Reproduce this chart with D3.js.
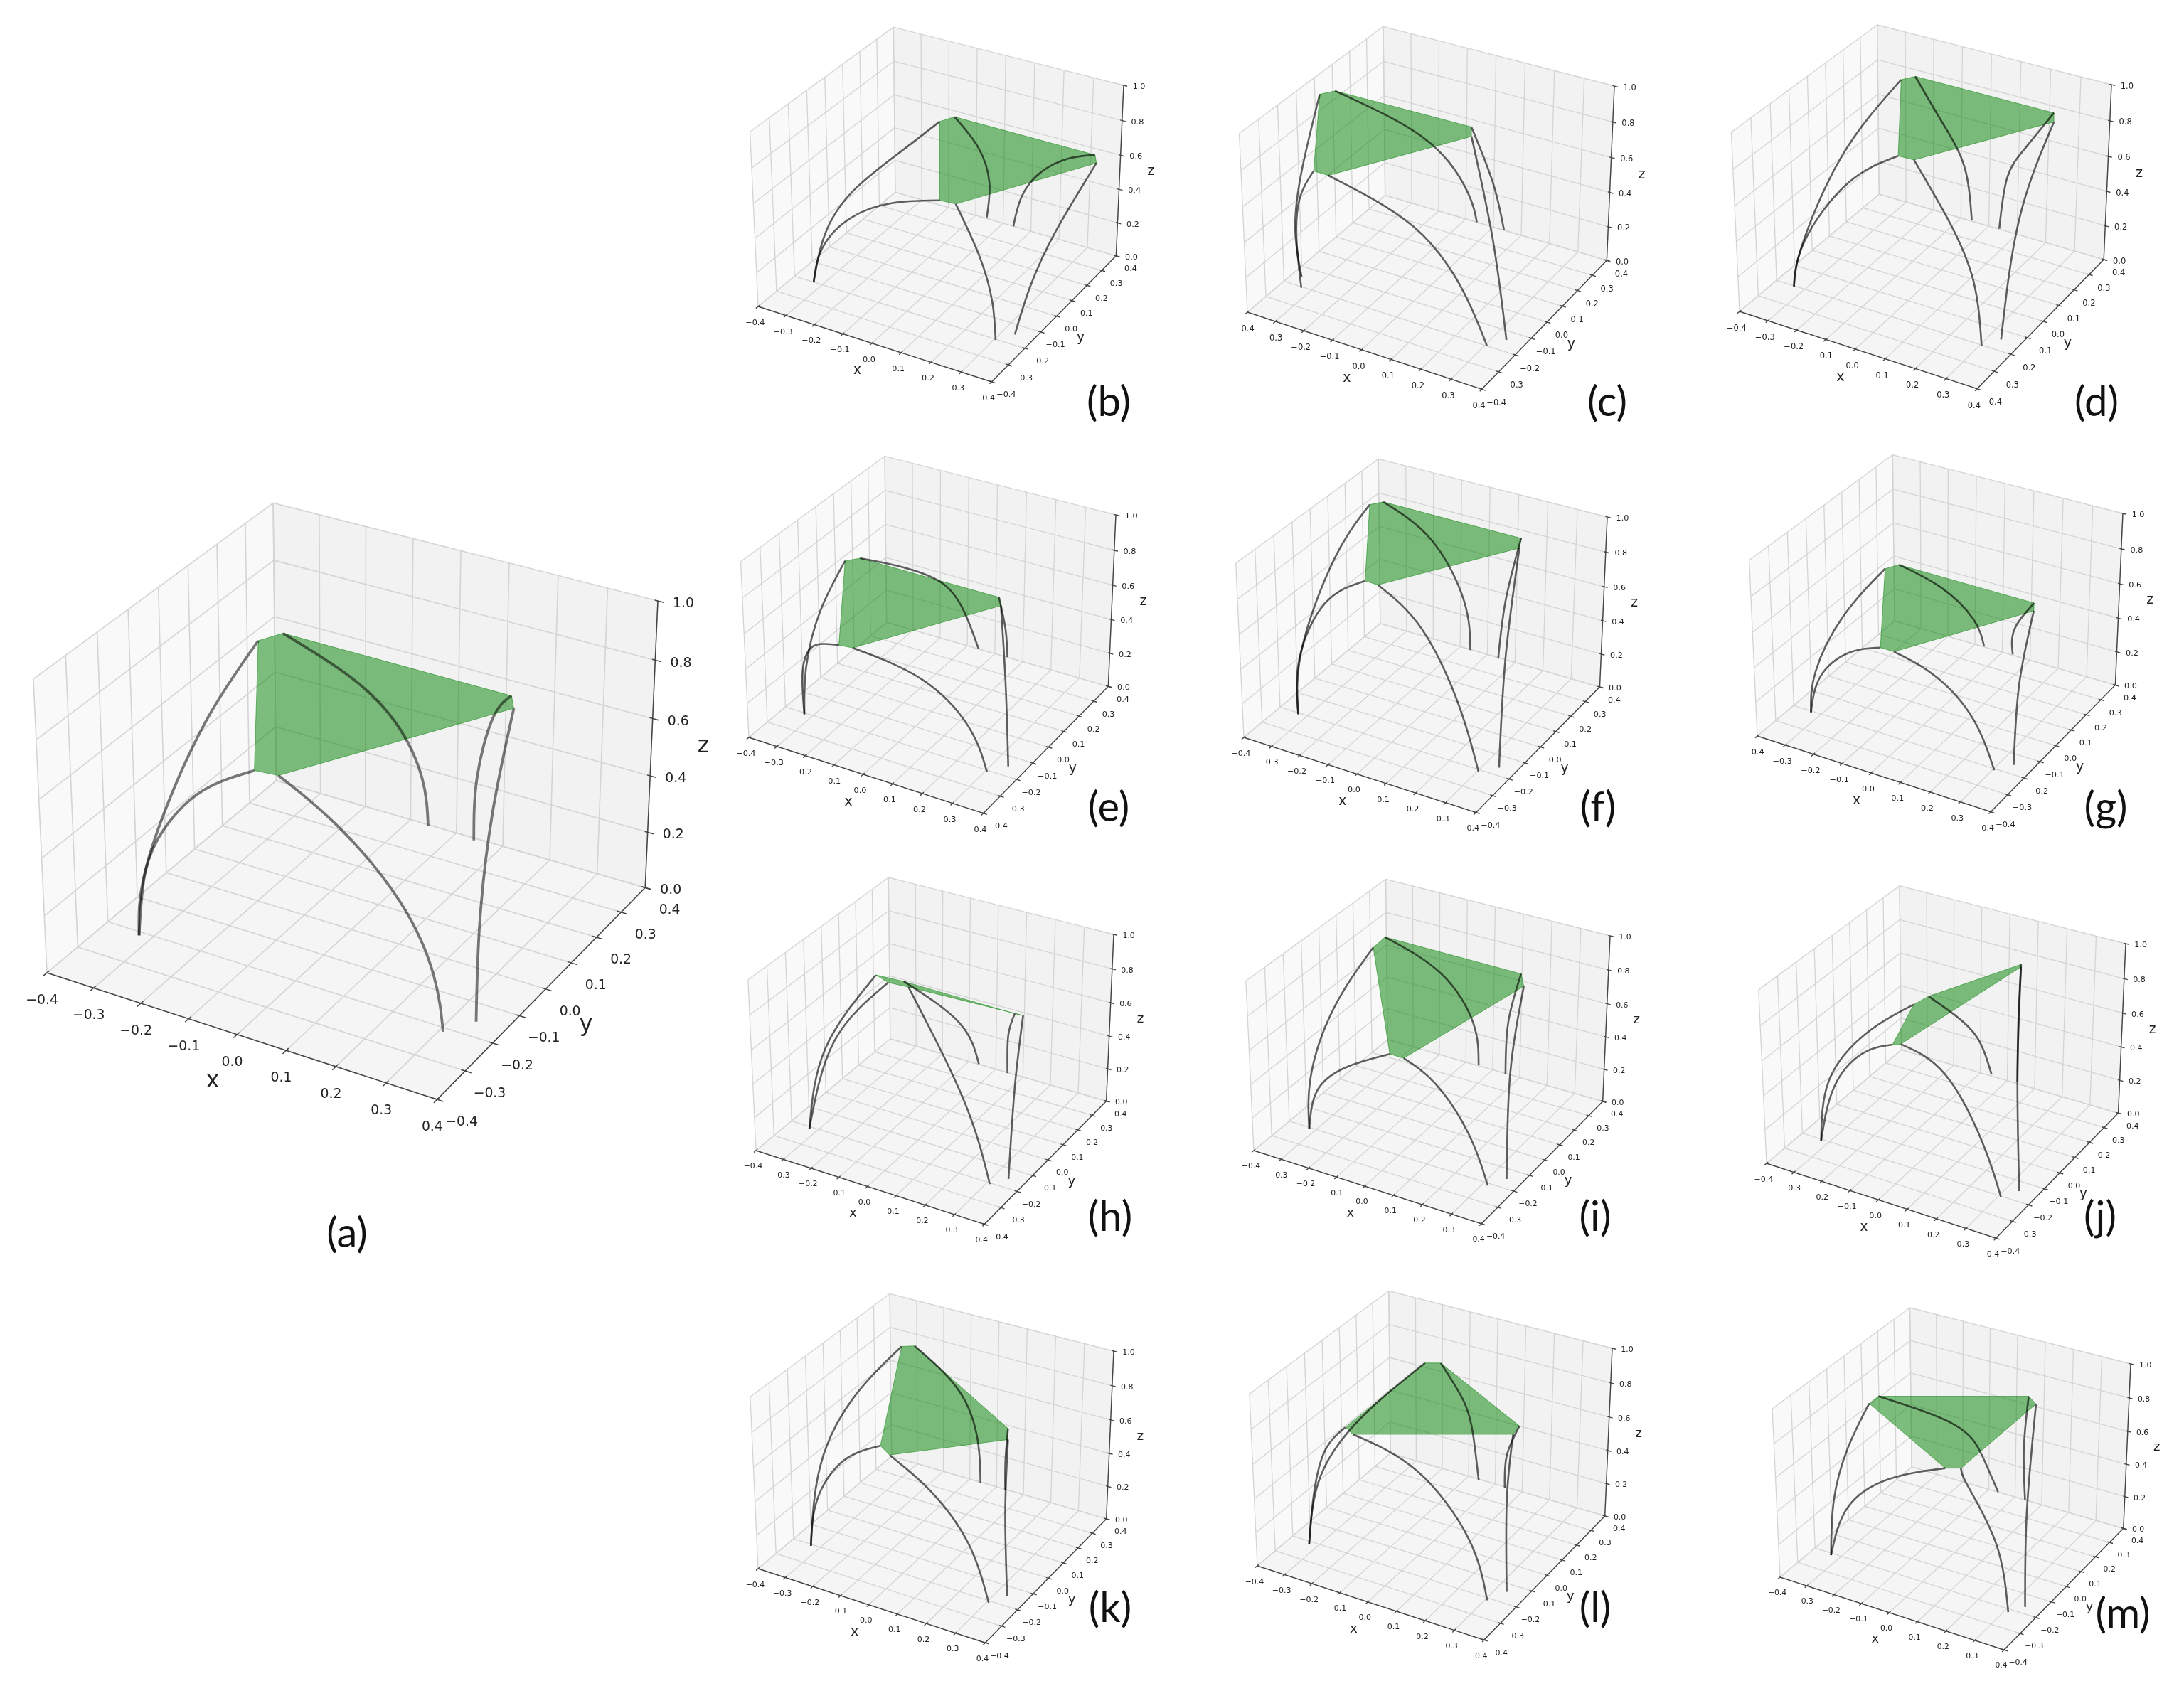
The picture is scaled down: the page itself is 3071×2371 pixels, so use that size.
<!DOCTYPE html>
<html><head><meta charset="utf-8">
<script src="https://cdn.jsdelivr.net/npm/d3@7"></script>
<style>body{margin:0;background:#fff}</style></head>
<body><svg id="chart" width="3071" height="2371"></svg>
<script>
var xTicks = [-0.4,-0.3,-0.2,-0.1,0,0.1,0.2,0.3,0.4],
	yTicks = [-0.4,-0.3,-0.2,-0.1,0,0.1,0.2,0.3,0.4],
	zTicks = [0,0.2,0.4,0.6,0.8,1];

// six legs per pose, each leg from floor to platform, as [x, y, z]
var legsA = [
	[[-0.325,-0.211,0],[-0.345,-0.160,0.15],[-0.380,-0.004,0.3],[-0.395,0.163,0.45],[-0.376,0.301,0.6]],
	[[-0.060,0.397,0],[-0.083,0.413,0.15],[-0.153,0.435,0.3],[-0.242,0.410,0.45],[-0.351,0.350,0.6]],
	[[0.042,0.392,0],[0.032,0.419,0.2],[0.048,0.448,0.4],[0.138,0.348,0.6]],
	[[0.343,-0.155,0],[0.282,-0.033,0.2],[0.214,0.137,0.4],[0.164,0.308,0.6]],
	[[0.308,-0.212,0],[0.272,-0.183,0.15],[0.175,-0.129,0.3],[0.028,-0.090,0.45],[-0.081,-0.118,0.6]],
	[[-0.325,-0.211,0],[-0.352,-0.144,0.15],[-0.324,-0.117,0.3],[-0.252,-0.099,0.45],[-0.127,-0.124,0.6]]
];
var legsB = [
	[[-0.331,-0.199,0],[-0.385,-0.047,0.125],[-0.383,0.118,0.25],[-0.315,0.298,0.375],[-0.240,0.412,0.5]],
	[[-0.063,0.406,0],[-0.081,0.454,0.167],[-0.139,0.483,0.333],[-0.215,0.463,0.5]],
	[[0.037,0.400,0],[0.030,0.467,0.125],[0.070,0.521,0.25],[0.167,0.524,0.375],[0.285,0.461,0.5]],
	[[0.340,-0.150,0],[0.326,-0.031,0.167],[0.319,0.138,0.333],[0.312,0.417,0.5]],
	[[0.305,-0.204,0],[0.272,-0.166,0.167],[0.191,-0.100,0.333],[0.063,-0.017,0.5]],
	[[-0.331,-0.199,0],[-0.348,-0.120,0.125],[-0.301,-0.030,0.25],[-0.170,0.004,0.375],[0.011,-0.022,0.5]]
];
var legsC = [
	[[-0.367,-0.152,0],[-0.424,-0.093,0.217],[-0.477,0.038,0.433],[-0.550,0.258,0.65]],
	[[-0.060,0.400,0],[-0.074,0.359,0.217],[-0.236,0.378,0.433],[-0.520,0.301,0.65]],
	[[0.039,0.399,0],[0.026,0.344,0.325],[-0.033,0.309,0.65]],
	[[0.341,-0.144,0],[0.190,0.044,0.325],[-0.003,0.256,0.65]],
	[[0.306,-0.199,0],[0.193,-0.148,0.217],[0.000,-0.101,0.433],[-0.253,-0.164,0.65]],
	[[-0.334,-0.205,0],[-0.377,-0.158,0.217],[-0.377,-0.135,0.433],[-0.305,-0.163,0.65]]
];
var legsD = [
	[[-0.336,-0.203,0],[-0.324,-0.171,0.217],[-0.385,0.158,0.433],[-0.358,0.472,0.65]],
	[[-0.065,0.407,0],[-0.139,0.490,0.217],[-0.222,0.497,0.433],[-0.331,0.513,0.65]],
	[[0.036,0.402,0],[0.011,0.496,0.217],[0.078,0.486,0.433],[0.158,0.514,0.65]],
	[[0.339,-0.146,0],[0.213,0.195,0.325],[0.185,0.462,0.65]],
	[[0.306,-0.203,0],[0.215,-0.090,0.217],[0.093,-0.020,0.433],[-0.063,0.045,0.65]],
	[[-0.336,-0.203,0],[-0.333,-0.140,0.217],[-0.281,0.024,0.433],[-0.116,0.043,0.65]]
];
var legsE = [
	[[-0.327,-0.207,0],[-0.383,-0.104,0.167],[-0.434,0.061,0.333],[-0.441,0.222,0.5]],
	[[-0.058,0.399,0],[-0.156,0.476,0.125],[-0.249,0.488,0.25],[-0.348,0.394,0.375],[-0.410,0.260,0.5]],
	[[0.045,0.401,0],[0.077,0.324,0.25],[0.088,0.257,0.5]],
	[[0.346,-0.151,0],[0.235,0.033,0.25],[0.118,0.214,0.5]],
	[[0.307,-0.209,0],[0.216,-0.158,0.167],[0.046,-0.136,0.333],[-0.138,-0.225,0.5]],
	[[-0.327,-0.207,0],[-0.399,-0.101,0.125],[-0.384,-0.073,0.25],[-0.290,-0.139,0.375],[-0.181,-0.232,0.5]]
];
var legsF = [
	[[-0.329,-0.207,0],[-0.405,-0.060,0.233],[-0.488,0.269,0.467],[-0.444,0.416,0.7]],
	[[-0.061,0.397,0],[-0.117,0.453,0.233],[-0.283,0.533,0.467],[-0.416,0.454,0.7]],
	[[0.042,0.395,0],[0.057,0.409,0.35],[0.084,0.453,0.7]],
	[[0.346,-0.161,0],[0.226,0.094,0.35],[0.110,0.393,0.7]],
	[[0.305,-0.212,0],[0.183,-0.114,0.233],[-0.018,0.015,0.467],[-0.147,-0.028,0.7]],
	[[-0.329,-0.207,0],[-0.377,-0.119,0.233],[-0.359,0.007,0.467],[-0.193,-0.026,0.7]]
];
var legsG = [
	[[-0.333,-0.207,0],[-0.359,-0.135,0.167],[-0.372,0.049,0.333],[-0.323,0.220,0.5]],
	[[-0.068,0.403,0],[-0.101,0.388,0.167],[-0.204,0.360,0.333],[-0.299,0.264,0.5]],
	[[0.035,0.405,0],[0.085,0.319,0.25],[0.182,0.260,0.5]],
	[[0.341,-0.154,0],[0.254,0.036,0.25],[0.204,0.217,0.5]],
	[[0.305,-0.207,0],[0.190,-0.131,0.167],[0.057,-0.120,0.333],[-0.037,-0.202,0.5]],
	[[-0.333,-0.207,0],[-0.330,-0.154,0.167],[-0.241,-0.134,0.333],[-0.084,-0.202,0.5]]
];
var legsH = [
	[[-0.327,-0.211,0],[-0.411,0.021,0.25],[-0.383,0.288,0.5]],
	[[-0.064,0.402,0],[-0.125,0.379,0.25],[-0.283,0.295,0.5]],
	[[0.045,0.397,0],[0.052,0.384,0.25],[0.126,0.285,0.5]],
	[[0.346,-0.153,0],[0.223,0.110,0.25],[0.154,0.288,0.5]],
	[[0.311,-0.206,0],[0.125,-0.036,0.25],[-0.251,0.270,0.5]],
	[[-0.327,-0.211,0],[-0.412,0.077,0.25],[-0.322,0.263,0.5]]
];
var legsI = [
	[[-0.320,-0.209,0],[-0.386,-0.089,0.2],[-0.440,0.140,0.4],[-0.428,0.363,0.6]],
	[[-0.054,0.403,0],[-0.107,0.459,0.2],[-0.259,0.511,0.4],[-0.433,0.446,0.6]],
	[[0.050,0.396,0],[0.042,0.423,0.3],[0.075,0.442,0.6]],
	[[0.350,-0.152,0],[0.204,0.135,0.3],[0.122,0.372,0.6]],
	[[0.318,-0.212,0],[0.216,-0.150,0.2],[0.086,-0.120,0.4],[0.025,-0.208,0.6]],
	[[-0.320,-0.209,0],[-0.317,-0.159,0.2],[-0.202,-0.161,0.4],[-0.024,-0.207,0.6]]
];
var legsJ = [
	[[-0.326,-0.207,0],[-0.391,-0.052,0.2],[-0.332,0.079,0.4],[-0.186,0.125,0.6]],
	[[-0.063,0.409,0],[-0.116,0.409,0.2],[-0.151,0.319,0.4],[-0.173,0.194,0.6]],
	[[0.033,0.408,0],[-0.001,0.471,0.3],[-0.024,0.526,0.6]],
	[[0.341,-0.149,0],[0.153,0.181,0.3],[-0.016,0.511,0.6]],
	[[0.308,-0.203,0],[0.203,-0.131,0.2],[0.010,-0.019,0.4],[-0.094,-0.107,0.6]],
	[[-0.326,-0.207,0],[-0.353,-0.085,0.2],[-0.276,-0.039,0.4],[-0.114,-0.122,0.6]]
];
var legsK = [
	[[-0.330,-0.208,0],[-0.458,0.053,0.2],[-0.487,0.302,0.4],[-0.419,0.503,0.6]],
	[[-0.058,0.397,0],[-0.101,0.453,0.2],[-0.211,0.523,0.4],[-0.384,0.528,0.6]],
	[[0.036,0.394,0],[0.091,0.288,0.3],[0.149,0.192,0.6]],
	[[0.338,-0.151,0],[0.240,0.012,0.3],[0.182,0.131,0.6]],
	[[0.307,-0.210,0],[0.183,-0.116,0.2],[0.033,-0.082,0.4],[-0.084,-0.132,0.6]],
	[[-0.330,-0.208,0],[-0.354,-0.128,0.2],[-0.299,-0.057,0.4],[-0.137,-0.098,0.6]]
];
var legsL = [
	[[-0.330,-0.213,0],[-0.410,-0.016,0.2],[-0.384,0.199,0.4],[-0.280,0.425,0.6]],
	[[-0.058,0.393,0],[-0.118,0.461,0.2],[-0.150,0.454,0.4],[-0.235,0.450,0.6]],
	[[0.040,0.392,0],[0.091,0.305,0.3],[0.184,0.210,0.6]],
	[[0.336,-0.142,0],[0.220,0.067,0.3],[0.192,0.154,0.6]],
	[[0.307,-0.212,0],[0.181,-0.104,0.2],[-0.054,-0.010,0.4],[-0.236,-0.093,0.6]],
	[[-0.330,-0.213,0],[-0.368,-0.121,0.2],[-0.371,-0.045,0.4],[-0.279,-0.067,0.6]]
];
var legsM = [
	[[-0.332,-0.211,0],[-0.399,-0.084,0.2],[-0.425,0.046,0.4],[-0.406,0.150,0.6]],
	[[-0.065,0.401,0],[-0.128,0.403,0.2],[-0.205,0.353,0.4],[-0.406,0.207,0.6]],
	[[0.037,0.401,0],[0.017,0.424,0.3],[0.017,0.451,0.6]],
	[[0.344,-0.165,0],[0.221,0.067,0.3],[0.063,0.416,0.6]],
	[[0.313,-0.216,0],[0.181,-0.057,0.2],[0.034,0.025,0.4],[0.060,-0.066,0.6]],
	[[-0.332,-0.211,0],[-0.335,-0.102,0.2],[-0.205,-0.057,0.4],[0.018,-0.090,0.6]]
];

// where each plot sits: near floor corner, far top corner, caption
var panels = [
	{name:'(a)', legs:legsA, from:[66,1368], to:[925,845], cap:[488,1731]},
	{name:'(b)', legs:legsB, from:[1066,431], to:[1580,120], cap:[1559,562]},
	{name:'(c)', legs:legsC, from:[1754,439], to:[2270,121], cap:[2260,562]},
	{name:'(d)', legs:legsD, from:[2446,438], to:[2969,119], cap:[2948,562]},
	{name:'(e)', legs:legsE, from:[1053,1037], to:[1569,724], cap:[1559,1132]},
	{name:'(f)', legs:legsF, from:[1749,1037], to:[2260,727], cap:[2247,1132]},
	{name:'(g)', legs:legsG, from:[2471,1035], to:[2985,722], cap:[2961,1132]},
	{name:'(h)', legs:legsH, from:[1063,1618], to:[1566,1314], cap:[1561,1708]},
	{name:'(i)', legs:legsI, from:[1763,1618], to:[2264,1316], cap:[2243,1708]},
	{name:'(j)', legs:legsJ, from:[2484,1636], to:[2989,1327], cap:[2953,1708]},
	{name:'(k)', legs:legsK, from:[1066,2206], to:[1566,1900], cap:[1561,2258]},
	{name:'(l)', legs:legsL, from:[1768,2202], to:[2267,1896], cap:[2243,2258]},
	{name:'(m)', legs:legsM, from:[2503,2218], to:[2996,1918], cap:[2985,2266]}
];

var svg = d3.select('#chart');
var defs = svg.append('defs');
[['softBig',0.7],['softSmall',0.7]].forEach(function(d){
	defs.append('filter').attr('id',d[0]).attr('x','-5%').attr('y','-5%').attr('width','110%').attr('height','110%')
		.append('feGaussianBlur').attr('stdDeviation',d[1]);
});

// same view as a matplotlib 3d axes: elev 30, azim -60, dist 10, box 4:4:3
var lo = -0.4, hi = 0.4;
var unitX = d3.scaleLinear().domain([lo,hi]).range([0,1]),
	unitZ = d3.scaleLinear().domain([0,1]).range([0,1]);
var box = [1.1428,1.1428,0.857], elev = 30*Math.PI/180, azim = -60*Math.PI/180, dist = 10;
var w = [Math.cos(elev)*Math.cos(azim),Math.cos(elev)*Math.sin(azim),Math.sin(elev)];
var u = [-w[1]/Math.hypot(w[0],w[1]),w[0]/Math.hypot(w[0],w[1]),0];
var v = [w[1]*u[2]-w[2]*u[1],w[2]*u[0]-w[0]*u[2],w[0]*u[1]-w[1]*u[0]];
function dot(a,b){ return a[0]*b[0]+a[1]*b[1]+a[2]*b[2]; }
function project(d){
	var p = [(unitX(d[0])-0.5)*box[0],(unitX(d[1])-0.5)*box[1],(unitZ(d[2])-0.5)*box[2]];
	var k = dist/(dist-dot(w,p));
	return [dot(u,p)*k,dot(v,p)*k];
}

var fmt = d3.format('.1f');
var nearCorner = project([lo,lo,0]), farCorner = project([hi,hi,1]);

panels.forEach(function(panel){
	var big = panel.name === '(a)';
	var sx = d3.scaleLinear().domain([nearCorner[0],farCorner[0]]).range([panel.from[0],panel.to[0]]),
		sy = d3.scaleLinear().domain([nearCorner[1],farCorner[1]]).range([panel.from[1],panel.to[1]]);
	var W = panel.to[0]-panel.from[0], H = panel.from[1]-panel.to[1];
	function px(d){ return sx(project(d)[0]); }
	function py(d){ return sy(project(d)[1]); }
	var straight = d3.line().x(px).y(py),
		arc = d3.line().x(px).y(py).curve(d3.curveNatural);

	var g = svg.append('g').attr('filter',big ? 'url(#softBig)' : 'url(#softSmall)');

	var panes = [
		[[lo,lo,0],[lo,hi,0],[lo,hi,1],[lo,lo,1]],
		[[lo,hi,0],[hi,hi,0],[hi,hi,1],[lo,hi,1]],
		[[lo,lo,0],[hi,lo,0],[hi,hi,0],[lo,hi,0]]
	];
	g.selectAll('path.pane').data(panes).enter().append('path').attr('class','pane')
		.attr('d',function(d){ return straight(d)+'Z'; })
		.attr('fill',function(d,i){ return ['#f9f9f9','#f2f2f2','#f5f5f5'][i]; });

	var grid = [];
	xTicks.forEach(function(t){ grid.push([[t,lo,0],[t,hi,0]]); grid.push([[t,hi,0],[t,hi,1]]); });
	yTicks.forEach(function(t){ grid.push([[lo,t,0],[hi,t,0]]); grid.push([[lo,t,0],[lo,t,1]]); });
	zTicks.forEach(function(t){ grid.push([[lo,lo,t],[lo,hi,t]]); grid.push([[lo,hi,t],[hi,hi,t]]); });
	g.selectAll('path.grid').data(grid).enter().append('path').attr('class','grid')
		.attr('d',straight).attr('fill','none').attr('stroke','#d4d4d4').attr('stroke-width',big ? 1.6 : 1.3);

	var axes = [[[lo,lo,0],[hi,lo,0]],[[hi,lo,0],[hi,hi,0]],[[hi,hi,0],[hi,hi,1]]];
	xTicks.forEach(function(t){ axes.push([[t,lo-0.012,0],[t,lo+0.008,0]]); });
	yTicks.forEach(function(t){ axes.push([[hi+0.012,t,0],[hi-0.008,t,0]]); });
	zTicks.forEach(function(t){ axes.push([[hi-0.006,hi,t],[hi+0.012,hi,t]]); });
	g.selectAll('path.axis').data(axes).enter().append('path').attr('class','axis')
		.attr('d',straight).attr('fill','none').attr('stroke','#444').attr('stroke-width',big ? 1.5 : 1.4);

	function label(text,at,dx,dy,size){
		g.append('text').attr('x',px(at)+dx*W).attr('y',py(at)+dy*H)
			.attr('text-anchor','middle').attr('dominant-baseline','central')
			.attr('font-family','DejaVu Sans').attr('font-size',size).attr('fill','#222').text(text);
	}
	var tickSize = H*0.036, titleSize = H*0.06;
	xTicks.forEach(function(t){ label(fmt(t),[t,lo,0],-0.008,0.072,tickSize); });
	yTicks.forEach(function(t){ label(fmt(t),[hi,t,0],0.04,0.058,tickSize); });
	zTicks.forEach(function(t){ label(fmt(t),[hi,hi,t],0.042,0.005,tickSize); });
	label('x',[0,lo,0],-0.04,0.12,titleSize);
	label('y',[hi,0,0],0.066,0.092,titleSize);
	label('z',[hi,hi,0.5],0.085,-0.008,titleSize);

	var platform = panel.legs.map(function(leg){ return leg[leg.length-1]; });
	g.append('path').attr('d',straight(platform)+'Z')
		.attr('fill','green').attr('fill-opacity',0.5)
		.attr('stroke','green').attr('stroke-opacity',0.5).attr('stroke-width',1);

	g.selectAll('path.leg').data(panel.legs).enter().append('path').attr('class','leg')
		.attr('d',arc).attr('fill','none').attr('stroke','#000').attr('stroke-opacity',big ? 0.52 : 0.62)
		.attr('stroke-width',big ? 3.8 : 2.6);

	svg.append('text').attr('x',panel.cap[0]).attr('y',panel.cap[1])
		.attr('text-anchor','middle').attr('dominant-baseline','central')
		.attr('font-family','Lato').attr('font-size',58).attr('fill','#111').text(panel.name);
});
</script></body></html>
